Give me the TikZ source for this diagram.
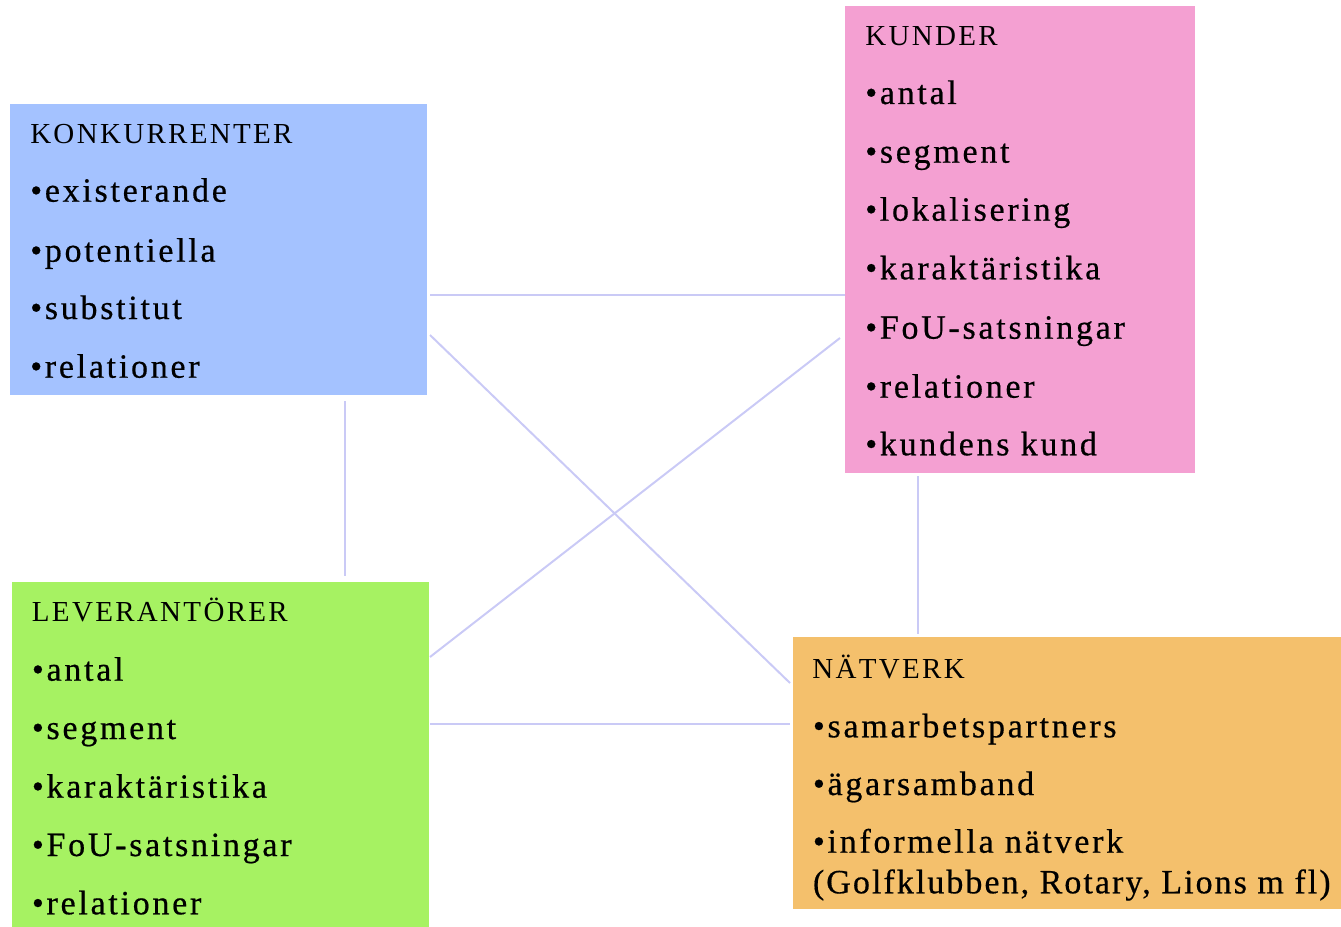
\documentclass[tikz,border=0pt]{standalone}
\usepackage{fontspec}
\setmainfont{Liberation Serif}
\newfontfamily\itemfont[LetterSpace=8,FakeBold=0.5]{Liberation Serif}
\newfontfamily\narrowitemfont[LetterSpace=6,FakeBold=0.5]{Liberation Serif}
\newfontfamily\titlefont[LetterSpace=8]{Liberation Serif}
\definecolor{cblue}{HTML}{A4C2FF}
\definecolor{cpink}{HTML}{F4A0D2}
\definecolor{cgreen}{HTML}{A6F262}
\definecolor{corange}{HTML}{F4C06C}
\definecolor{cline}{HTML}{CACAF6}
\begin{document}
\begin{tikzpicture}[x=0.75pt,y=-0.75pt,
  panel/.style={draw=none,inner sep=0pt,outer sep=0pt,anchor=north west},
  ttl/.style={inner sep=0pt,anchor=base west,font=\titlefont\fontsize{21.75}{26}\selectfont},
  itm/.style={inner sep=0pt,anchor=base west,font=\itemfont\fontsize{25.5}{30}\selectfont},
  itmnarrow/.style={inner sep=0pt,anchor=base west,font=\narrowitemfont\fontsize{25.5}{30}\selectfont},
  link/.style={draw=cline,line width=1.5pt}]
\useasboundingbox (0,0) rectangle (1341,927);
% panels
\node[panel,fill=cblue,minimum width=312.75pt,minimum height=218pt] (konk) at (10,104) {};
\node[panel,fill=cpink,minimum width=262.5pt,minimum height=350pt] (kund) at (845,6) {};
\node[panel,fill=cgreen,minimum width=312.75pt,minimum height=258.75pt] (lev) at (12,582) {};
\node[panel,fill=corange,minimum width=410.75pt,minimum height=204.5pt] (nat) at (793.3,636.7) {};
% connector end points
\coordinate (a1) at (430,295);  \coordinate (a2) at (845,295);
\coordinate (b1) at (430,335);  \coordinate (b2) at (790,683);
\coordinate (c1) at (840,338);  \coordinate (c2) at (430,657);
\coordinate (d1) at (345,401);  \coordinate (d2) at (345,576);
\coordinate (e1) at (918,476);  \coordinate (e2) at (918,634);
\coordinate (f1) at (430,724);  \coordinate (f2) at (790,724);
\draw[link] (a1) -- (a2);
\draw[link] (b1) -- (b2);
\draw[link] (c1) -- (c2);
\draw[link] (d1) -- (d2);
\draw[link] (e1) -- (e2);
\draw[link] (f1) -- (f2);
% KONKURRENTER
\node[ttl] (k0) at (30,144) {KONKURRENTER};
\node[itm] (k1) at (30,201.7) {•existerande};
\node[itm] (k2) at (30,261.7) {•potentiella};
\node[itm] (k3) at (30,319) {•substitut};
\node[itm] (k4) at (30,377.7) {•relationer};
% KUNDER
\node[ttl] (u0) at (865,45.7) {KUNDER};
\node[itm] (u1) at (865,104) {•antal};
\node[itm] (u2) at (865,162.7) {•segment};
\node[itm] (u3) at (865,220.7) {•lokalisering};
\node[itm] (u4) at (865,279.3) {•karaktäristika};
\node[itm] (u5) at (865,338.7) {•FoU-satsningar};
\node[itm] (u6) at (865,397.7) {•relationer};
\node[itm] (u7) at (865,455.3) {•kundens kund};
% LEVERANTÖRER
\node[ttl] (l0) at (31.7,621.7) {LEVERANTÖRER};
\node[itm] (l1) at (31.7,680.7) {•antal};
\node[itm] (l2) at (31.7,739) {•segment};
\node[itm] (l3) at (31.7,797.7) {•karaktäristika};
\node[itm] (l4) at (31.7,856) {•FoU-satsningar};
\node[itm] (l5) at (31.7,914.3) {•relationer};
% NÄTVERK
\node[ttl] (n0) at (812,678.3) {NÄTVERK};
\node[itm] (n1) at (812.7,737.3) {•samarbetspartners};
\node[itm] (n2) at (812.7,795) {•ägarsamband};
\node[itm] (n3) at (812.7,852.7) {•informella nätverk};
\node[itmnarrow] (n4) at (812.7,893.3) {(Golfklubben, Rotary, Lions m fl)};
\end{tikzpicture}
\end{document}
